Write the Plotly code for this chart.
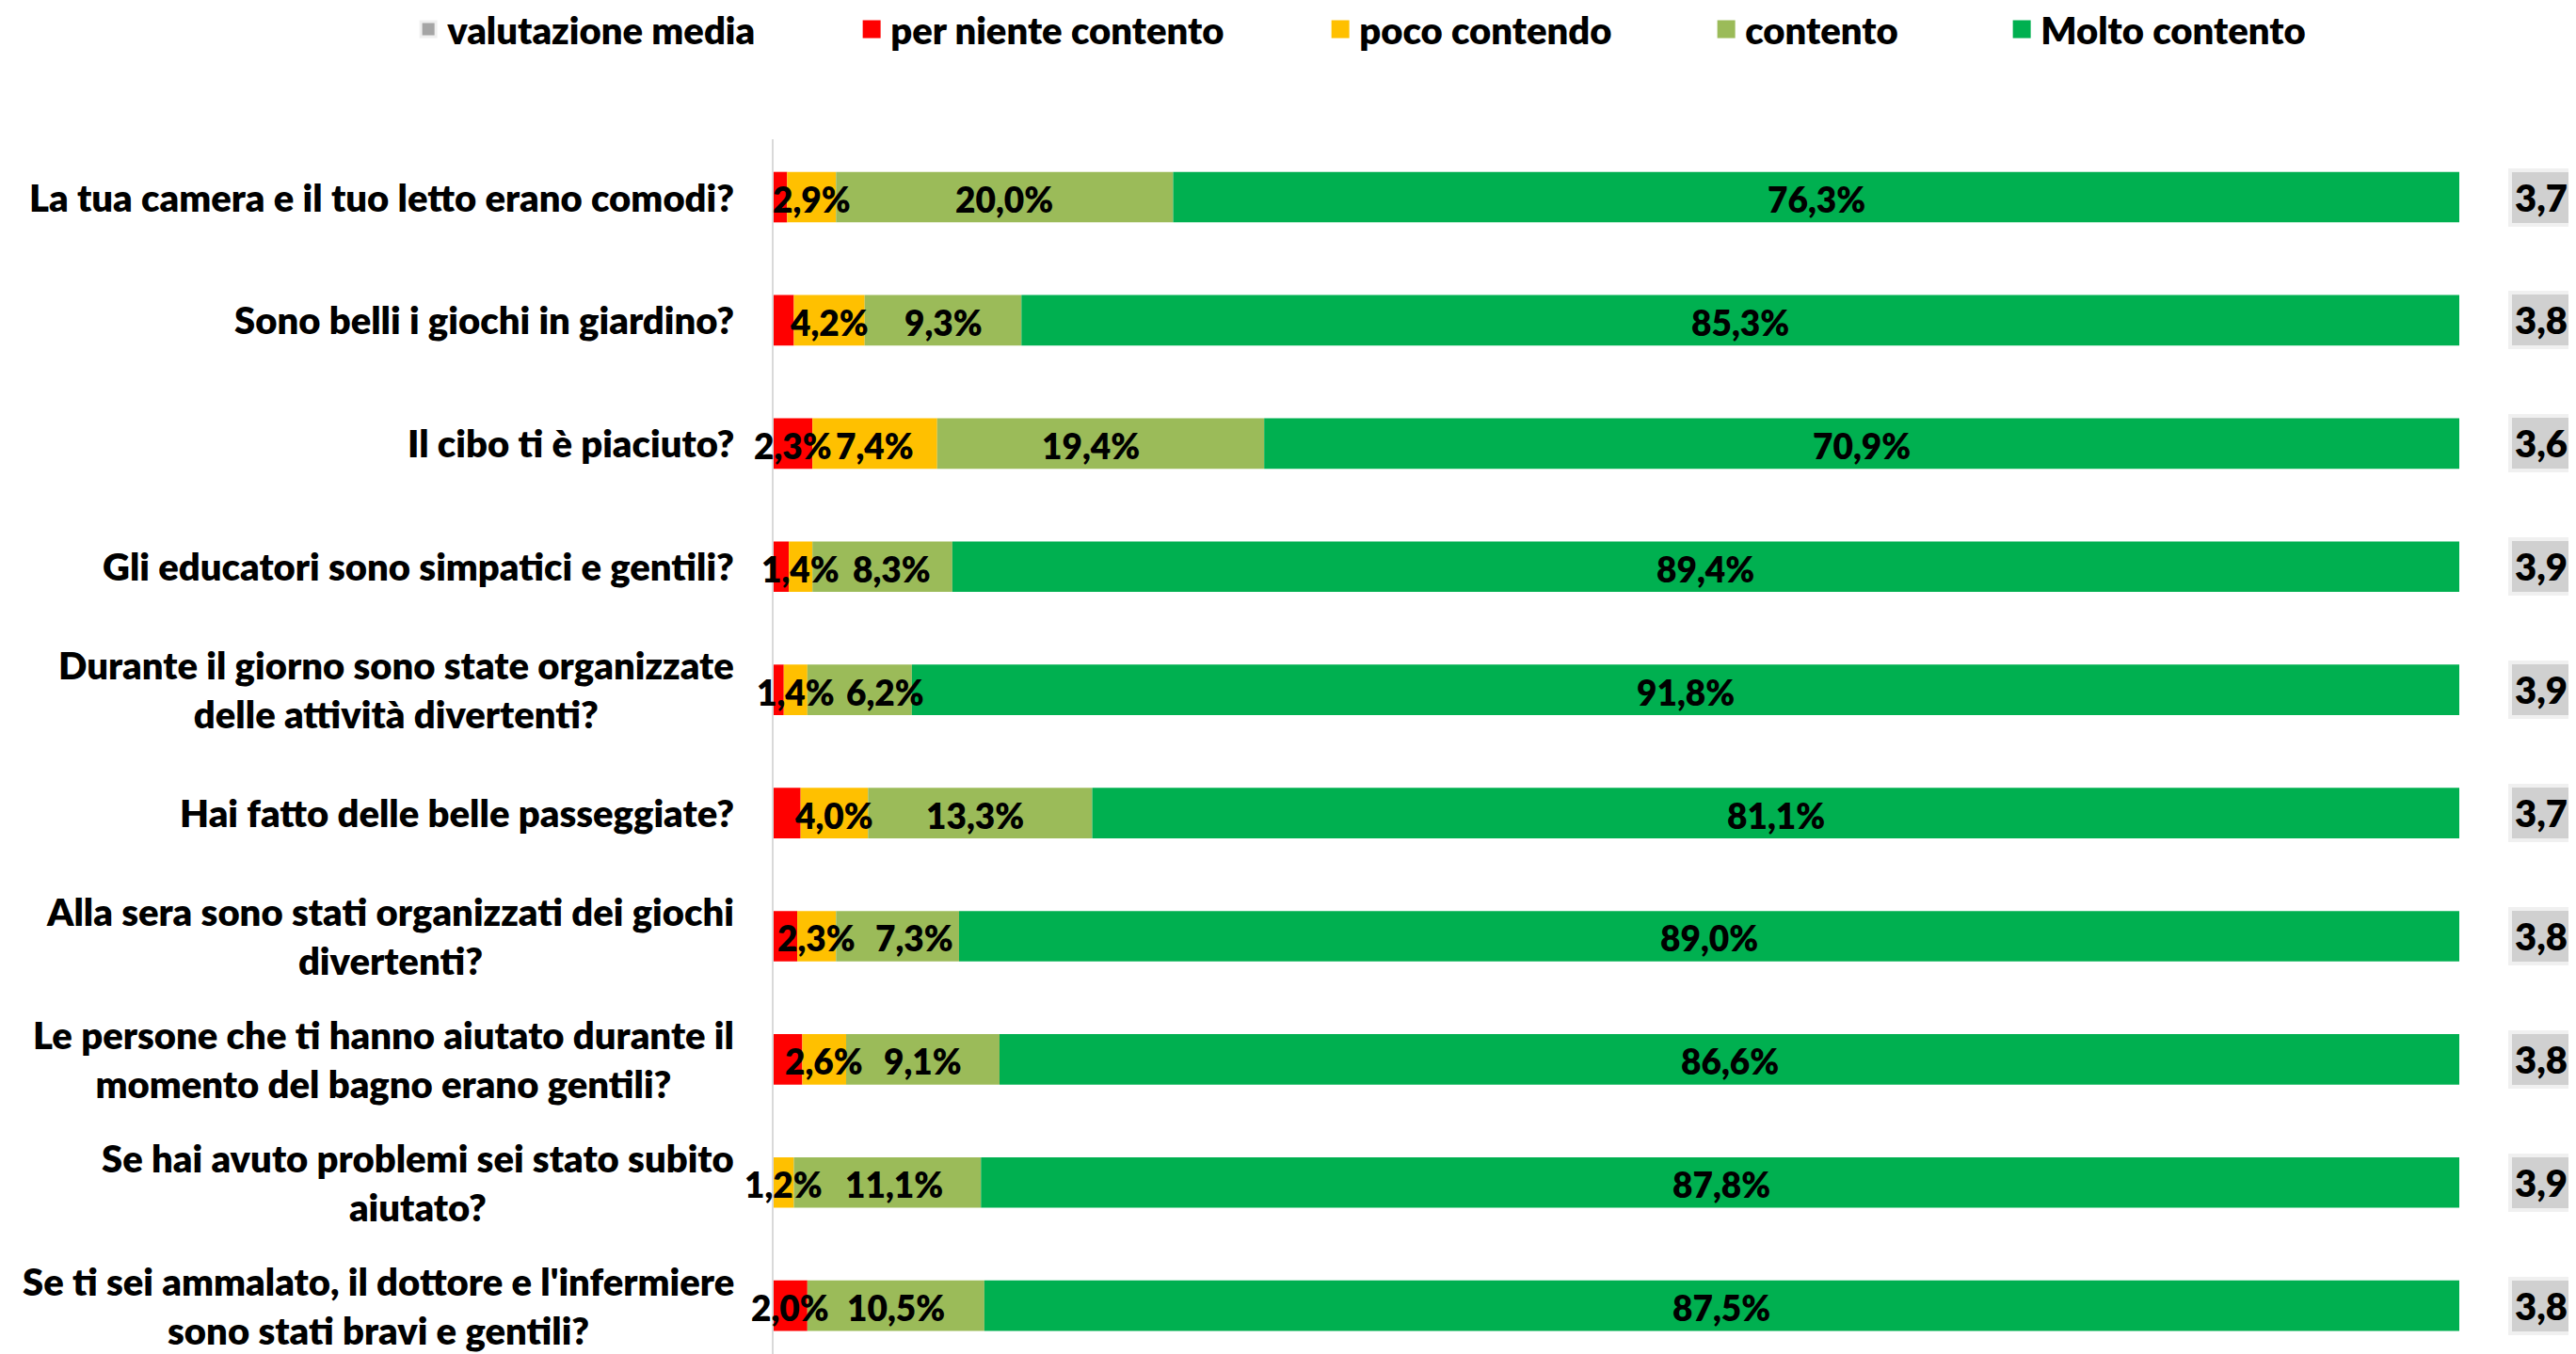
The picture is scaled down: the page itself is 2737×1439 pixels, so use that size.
import plotly.graph_objects as go

CATEGORIES = [
    "La tua camera e il tuo letto erano comodi?",
    "Sono belli i giochi in giardino?",
    "Il cibo ti è piaciuto?",
    "Gli educatori sono simpatici e gentili?",
    "Durante il giorno sono state organizzate<br>delle attività divertenti?",
    "Hai fatto delle belle passeggiate?",
    "Alla sera sono stati organizzati dei giochi<br>divertenti?",
    "Le persone che ti hanno aiutato durante il<br>momento del bagno erano gentili?",
    "Se hai avuto problemi sei stato subito<br>aiutato?",
    "Se ti sei ammalato, il dottore e l'infermiere<br>sono stati bravi e gentili?",
]

PER_NIENTE = [0.8, 1.2, 2.3, 0.9, 0.6, 1.6, 1.4, 1.7, 0.0, 2.0]
PER_NIENTE_LABEL_SHOWN = [False, False, True, False, False, False, False, False, False, True]
POCO = [2.9, 4.2, 7.4, 1.4, 1.4, 4.0, 2.3, 2.6, 1.2, 0.0]
CONTENTO = [20.0, 9.3, 19.4, 8.3, 6.2, 13.3, 7.3, 9.1, 11.1, 10.5]
MOLTO = [76.3, 85.3, 70.9, 89.4, 91.8, 81.1, 89.0, 86.6, 87.8, 87.5]
MEDIA = [3.7, 3.8, 3.6, 3.9, 3.9, 3.7, 3.8, 3.8, 3.9, 3.8]

SERIES_NAMES = ["valutazione media", "per niente contento", "poco contendo", "contento", "Molto contento"]
COLORS = ["#A5A5A5", "#FF0000", "#FFC000", "#9BBB59", "#00B050"]

# styling: legend entry widths and small manual label nudges (px) as in the original
LEGEND_WIDTHS = [426, 453, 365, 269, None]
LABEL_NUDGE = {2: [0, 0, -10, 10, 27, -5, 18, 0, 7, 0]}

FONT = "Lato"
WEIGHT = 800
FS_CAT = 40
FS_LAB = 37
FS_LEG = 40


def pct(v):
    return f"{v:.1f}%".replace(".", ",")


def lab(values, shown=None):
    out = []
    for i, v in enumerate(values):
        if v <= 0 or (shown is not None and not shown[i]):
            out.append("")
        else:
            out.append(pct(v))
    return out


ypos = list(range(len(CATEGORIES)))
bold = lambda size: dict(family=FONT, size=size, color="#000000", weight=WEIGHT)

fig = go.Figure()

# legend entries (square swatches)
for k, name in enumerate(SERIES_NAMES):
    kw = {}
    if LEGEND_WIDTHS[k]:
        kw["legendwidth"] = LEGEND_WIDTHS[k]
    line_col = "#EFEFEF" if k == 0 else COLORS[k]
    fig.add_trace(go.Scatter(
        x=[None], y=[None], mode="markers", name=name,
        marker=dict(symbol="square", size=30, color=COLORS[k],
                    line=dict(color=line_col, width=3)),
        showlegend=True, **kw,
    ))

series = [
    (PER_NIENTE, lab(PER_NIENTE, PER_NIENTE_LABEL_SHOWN)),
    (POCO, lab(POCO)),
    (CONTENTO, lab(CONTENTO)),
    (MOLTO, lab(MOLTO)),
]
annotations = []
base = [0.0] * len(CATEGORIES)
for k, (vals, texts) in enumerate(series):
    fig.add_trace(go.Bar(
        x=vals, y=ypos, base=list(base), orientation="h", name=SERIES_NAMES[k + 1],
        marker=dict(color=COLORS[k + 1], line=dict(width=0)),
        showlegend=False, hoverinfo="skip",
    ))
    nudge = LABEL_NUDGE.get(k, [0] * len(vals))
    for i, v in enumerate(vals):
        if texts[i]:
            annotations.append(dict(
                xref="x", yref="y", x=base[i] + v / 2, y=i, xanchor="center",
                yanchor="middle", xshift=nudge[i], yshift=-2, text=texts[i],
                showarrow=False, font=bold(FS_LAB),
            ))
    base = [b + v for b, v in zip(base, vals)]

for i, cat in enumerate(CATEGORIES):
    annotations.append(dict(
        xref="paper", yref="y", x=0, y=i, xanchor="right", yanchor="middle",
        xshift=-40, text=cat, showarrow=False, align="center",
        font=bold(FS_CAT),
    ))
for i, m in enumerate(MEDIA):
    annotations.append(dict(
        xref="paper", yref="y", x=1, y=i, xanchor="left", yanchor="middle",
        xshift=52, text=f"{m:.1f}".replace(".", ","), showarrow=False,
        bgcolor="#D0D0D0", bordercolor="#F0F0F0", borderwidth=4, borderpad=3,
        font=bold(FS_CAT),
    ))

# page body has an 8px margin: figure offset accordingly
fig.update_layout(
    width=2721, height=1431,
    margin=dict(l=814, r=116, t=140, b=0, pad=0, autoexpand=False),
    paper_bgcolor="white", plot_bgcolor="white",
    barmode="overlay", bargap=0.59,
    showlegend=True,
    legend=dict(
        orientation="h", traceorder="normal",
        x=-0.216, xanchor="left", y=1.0906, yanchor="middle",
        font=bold(FS_LEG), bgcolor="rgba(0,0,0,0)",
    ),
    xaxis=dict(range=[0, 100], visible=False, fixedrange=True),
    yaxis=dict(
        range=[9.392, -0.47], showticklabels=False, showgrid=False,
        zeroline=False, showline=True, linecolor="#D9D9D9", linewidth=2,
        ticks="",
    ),
    annotations=annotations,
)

fig.write_html("out.html")
